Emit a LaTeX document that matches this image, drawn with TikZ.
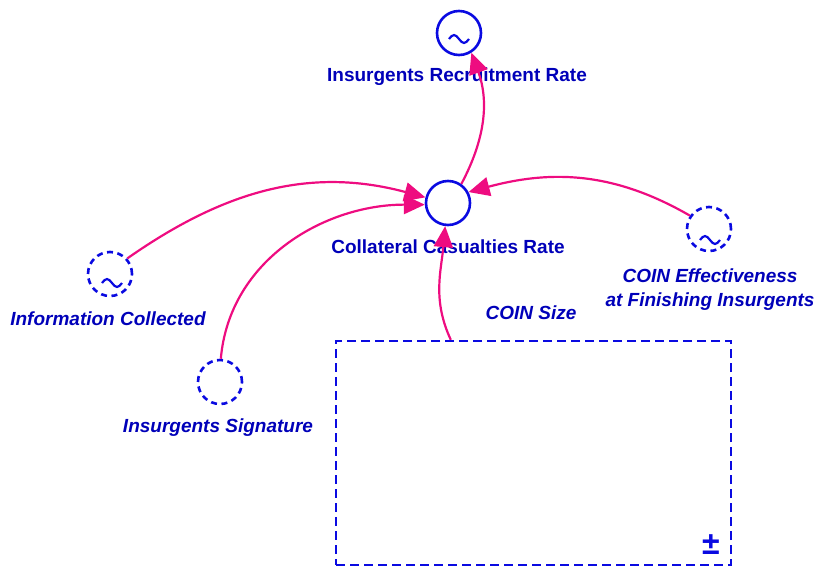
\documentclass[tikz,border=0pt]{standalone}
\usepackage{fontspec}
\setmainfont{Liberation Sans}
\usetikzlibrary{arrows.meta,calc}
\definecolor{auxblue}{RGB}{10,10,225}
\definecolor{labelblue}{RGB}{0,0,185}
\definecolor{linkpink}{RGB}{238,12,128}
\tikzset{
  var/.style={circle,draw=auxblue,line width=2.6pt,minimum size=44pt,inner sep=0pt},
  shadowvar/.style={var,dash pattern=on 6pt off 4.5pt},
  lbl/.style={text=labelblue,font=\fontsize{19}{24}\selectfont\bfseries,align=center,inner sep=0pt},
  ilbl/.style={lbl,font=\fontsize{19}{24}\selectfont\bfseries\itshape},
  link/.style={draw=linkpink,line width=2.2pt,-{Triangle[length=21pt,width=19pt]}},
  wave/.style={draw=auxblue,line width=2.2pt}
}
\newcommand{\lookupwave}[2]{%
  \draw[wave] ($(#1)+#2+(-10,0)$) sin ++(5,4) cos ++(5,-4) sin ++(5,-4) cos ++(5,4);}
\begin{document}
\begin{tikzpicture}[x=1pt,y=1pt]
  \useasboundingbox (0,0) rectangle (814,-568);

  % auxiliary variables
  \node[var] (recr) at (459,-33) {};
  \node[var] (coll) at (448,-203) {};
  \node[shadowvar] (eff) at (709,-229) {};
  \node[shadowvar] (info) at (110,-274) {};
  \node[shadowvar] (sig) at (220,-382) {};

  % lookup marks
  \lookupwave{recr}{(0,-6)}
  \lookupwave{eff}{(1,-11)}
  \lookupwave{info}{(2,-9)}

  % stock (shadow)
  \node[draw=auxblue,line width=2.4pt,dash pattern=on 9pt off 5pt,
        minimum width=395pt,minimum height=224pt,inner sep=0pt] (size) at (533.5,-453) {};
  \node[text=auxblue,font=\fontsize{32}{32}\selectfont\bfseries,inner sep=0pt] (pm) at (711,-545) {±};
  \coordinate (sizeout) at ($(size.north west)+(116,0)$);

  % labels
  \node[lbl] (recrlbl) at (457,-77) {Insurgents Recruitment Rate};
  \node[lbl] (colllbl) at (448,-247) {Collateral Casualties Rate};
  \node[ilbl] (efflbl) at (710,-290) {COIN Effectiveness\\at Finishing Insurgents};
  \node[ilbl] (infolbl) at (108,-319) {Information Collected};
  \node[ilbl] (siglbl) at (218,-428) {Insurgents Signature};
  \node[ilbl] (sizelbl) at (531,-313) {COIN Size};

  % causal links
  \draw[link] (coll.55) to[out=62,in=-70] (recr.-58);
  \draw[link] (info.42) to[out=35,in=165] (coll.166);
  \draw[link] (sig.88) to[out=85,in=180] (coll.184);
  \draw[link] (eff.145) to[out=150,in=15] (coll.28);
  \draw[link] (sizeout) to[out=115,in=-95] (coll.-97);
\end{tikzpicture}
\end{document}
